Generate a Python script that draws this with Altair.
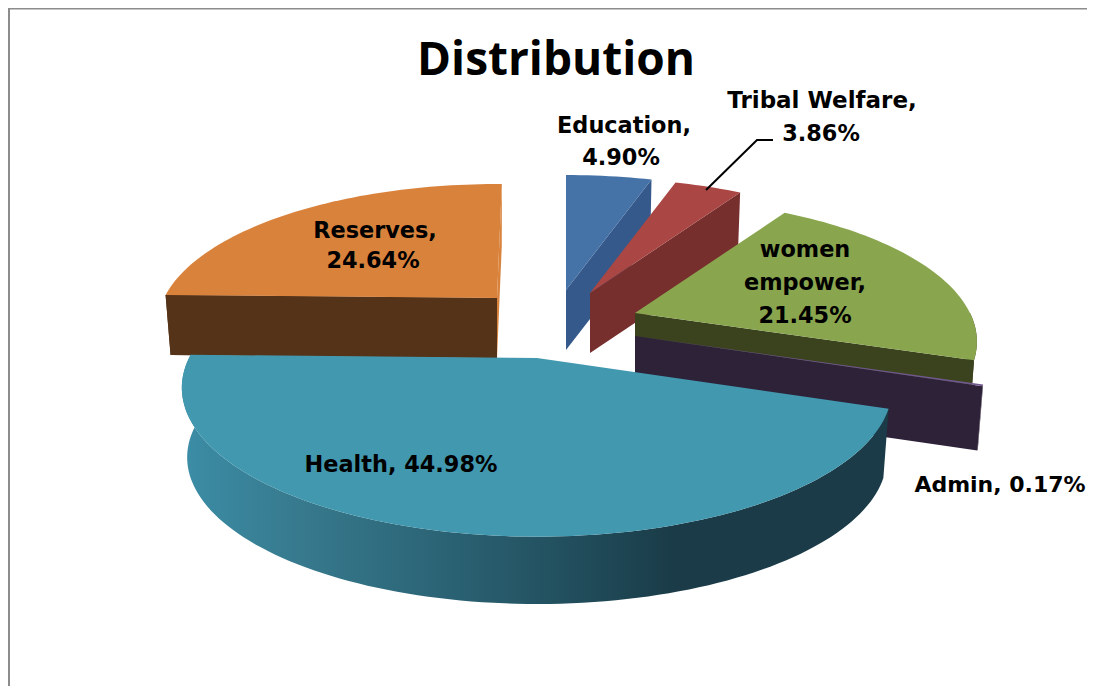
import math
import altair as alt

# ---- chart values -------------------------------------------------------
labels = ["Education", "Tribal Welfare", "women empower", "Admin", "Health", "Reserves"]
values = [4.90, 3.86, 21.45, 0.17, 44.98, 24.64]
title = "Distribution"

# ---- colours ------------------------------------------------------------
top_colors = ["#4572a7", "#aa4643", "#89a54e", "#71588f", "#4198af", "#d9823c"]
side_colors = ["#35598a", "#772f2e", "#3a431e", "#2d2238", "#1a3b47", "#553318"]

# ---- exploded 3-D pie geometry (page px) --------------------------------
M = 8  # page margin
W, H = 1079, 678
PERSP = 0.2
TILT = 138 / 336
slices = {
    "Education": dict(ax=566, ay=290, r=336, depth=60, face="end"),
    "Tribal Welfare": dict(ax=590, ay=293, r=336, depth=60, face="end"),
    "women empower": dict(ax=635, ay=313, r=335, depth=68, face="end"),
    "Admin": dict(ax=635, ay=336, r=344, depth=65, face="end"),
    "Health": dict(ax=537, ay=358, r=348, depth=70, face=None),
    "Reserves": dict(ax=497, ay=298, r=333, depth=60, face="start", extra=1.0),
}
BOTTOM_SCALE = 0.985


def rim(g, deg, scale=1.0, drop=0.0):
    a = math.radians(deg)
    X, Z = math.sin(a), -math.cos(a)
    s = 1 / (1 - PERSP * Z) * scale
    return [g["ax"] + g["r"] * X * s - M, g["ay"] + g["r"] * TILT * Z * s + drop - M]


def arc(g, a1, a2, scale=1.0, drop=0.0):
    n = max(2, int(abs(a2 - a1) / 1.5) + 2)
    return [rim(g, a1 + (a2 - a1) * i / (n - 1), scale, drop) for i in range(n)]


def poly(pts):
    return {"type": "Feature", "properties": {},
            "geometry": {"type": "Polygon", "coordinates": [pts + [pts[0]]]}}


def path(pts):
    return {"type": "Feature", "properties": {},
            "geometry": {"type": "LineString", "coordinates": pts}}


def shape(feature, **mark):
    return alt.Chart(alt.Data(values=[feature])).mark_geoshape(**mark).project(
        type="identity", scale=1, translate=[0, 0]
    )


health_side = alt.Gradient(
    gradient="linear", x1=0, x2=1, y1=0, y2=0,
    stops=[
        alt.GradientStop(offset=0, color="#3b8da6"),
        alt.GradientStop(offset=0.17, color="#37798d"),
        alt.GradientStop(offset=0.31, color="#2e6a7c"),
        alt.GradientStop(offset=0.52, color="#235261"),
        alt.GradientStop(offset=0.70, color="#1a3b47"),
        alt.GradientStop(offset=1, color="#1a3b47"),
    ],
)

# angles, clockwise from the back of the pie
total = sum(values)
spans, cur = {}, 0.0
for lab, v in zip(labels, values):
    spans[lab] = (cur, cur + v / total * 360)
    cur += v / total * 360

layers = []

# frame
layers.append(shape(path([[1, H], [1, 0.5], [W, 0.5]]),
                    filled=False, stroke="#8c8c8c", strokeWidth=2))

# back-to-front order
for lab in ["Reserves", "Education", "Tribal Welfare", "women empower", "Admin", "Health"]:
    i = labels.index(lab)
    g = slices[lab]
    a1, a2 = spans[lab]
    a2_draw = a2 + g.get("extra", 0.0)
    D = g["depth"]
    apex = [g["ax"] - M, g["ay"] - M]
    apex_b = [apex[0], apex[1] + D]
    side = health_side if lab == "Health" else side_colors[i]

    # outer wall (only where it faces the viewer)
    lo, hi = max(a1, 90), min(a2_draw, 270)
    if lab == "Health":
        lo, hi = a1, a2_draw
    if hi > lo:
        wall = arc(g, lo, hi) + arc(g, lo, hi, BOTTOM_SCALE, D)[::-1]
        layers.append(shape(poly(wall), fill=side, stroke=None))
    # radial wall
    if g["face"]:
        ang = a2_draw if g["face"] == "end" else a1
        face = [apex, rim(g, ang), rim(g, ang, BOTTOM_SCALE, D), apex_b]
        layers.append(shape(poly(face), fill=side_colors[i], stroke=None))
    if lab == "Reserves":
        face = [apex, rim(g, a2_draw), rim(g, a2_draw, BOTTOM_SCALE, D), apex_b]
        layers.append(shape(poly(face), fill=top_colors[i], stroke=None))
        side_face = [apex, rim(g, a1), rim(g, a1, BOTTOM_SCALE, D), apex_b]
        layers.append(shape(poly(side_face), fill=side_colors[i], stroke=None))
    # top surface
    layers.append(shape(poly([apex] + arc(g, a1, a2_draw)), fill=top_colors[i], stroke=None))

# leader line for Tribal Welfare
layers.append(shape(path([[706 - M, 190 - M], [757 - M, 140 - M], [773 - M, 140 - M]]),
                    filled=False, stroke="#000000", strokeWidth=2))

# ---- text ---------------------------------------------------------------
def pct(lab):
    return f"{values[labels.index(lab)]:.2f}%"


text_lines = [
    ("Education,", 624, 133, 22.4),
    (pct("Education"), 621, 165, 22.4),
    ("Tribal Welfare,", 822, 108, 23),
    (pct("Tribal Welfare"), 821, 141, 22.4),
    ("women", 805, 257, 22.4),
    ("empower,", 805, 290, 22.4),
    (pct("women empower"), 805, 323, 22.4),
    ("Reserves,", 375, 238, 22.4),
    (pct("Reserves"), 373, 268, 22.4),
    (f"Health, {pct('Health')}", 401, 472, 22.4),
    (f"Admin, {pct('Admin')}", 1000, 492, 22),
]
LABEL_FONT = "DejaVu Sans"
for txt, x, y, fs in text_lines:
    layers.append(
        alt.Chart(alt.Data(values=[{"t": txt}])).mark_text(
            font=LABEL_FONT, fontWeight="bold", fontSize=fs, color="#000000",
            align="center", baseline="alphabetic",
        ).encode(text="t:N", x=alt.value(x - M), y=alt.value(y - M))
    )

layers.append(
    alt.Chart(alt.Data(values=[{"t": title}])).mark_text(
        font="Open Sans", fontWeight="bold", fontSize=46, color="#000000",
        align="center", baseline="alphabetic",
    ).encode(text="t:N", x=alt.value(556 - M), y=alt.value(75 - M))
)

chart = alt.layer(*layers).properties(
    width=W, height=H, padding=0,
    autosize=alt.AutoSizeParams(type="none"),
).configure_view(stroke=None).configure(background="#ffffff")

chart.save("out.html", embed_options={"renderer": "svg", "actions": False})
